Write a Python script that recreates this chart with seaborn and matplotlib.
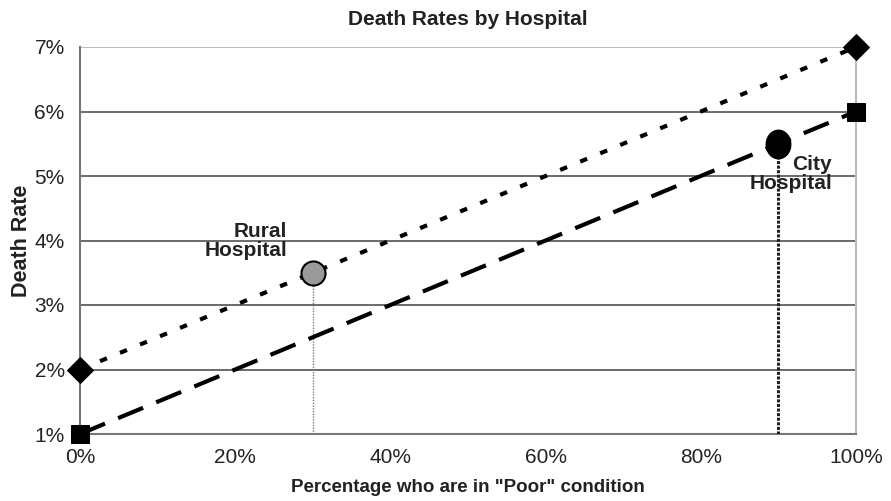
import matplotlib
matplotlib.use("Agg")
import matplotlib.pyplot as plt
from matplotlib.ticker import PercentFormatter
from matplotlib.path import Path
import numpy as np
import seaborn as sns
import pandas as pd

# Death rate by share of patients in "Poor" condition
poor_share = [0, 100]
rate_poor_cond = [2, 7]      # patients in poor condition
rate_good_cond = [1, 6]      # patients in good condition

hospitals = ["Rural\nHospital", "City\nHospital"]
hospital_poor_share = [30, 90]
hospital_rate = [3.5, 5.5]

sns.set_theme(style="white")
plt.rcParams["font.family"] = ["Liberation Sans", "DejaVu Sans"]

fig = plt.figure(figsize=(8.91, 5.01), dpi=100)
ax = fig.add_axes([80 / 891, 1 - 434 / 501, (856 - 80) / 891, (434 - 47) / 501])

df = pd.DataFrame({
    "x": poor_share * 2,
    "y": rate_poor_cond + rate_good_cond,
    "group": ["poor"] * 2 + ["good"] * 2,
})

sns.lineplot(data=df[df.group == "poor"], x="x", y="y", ax=ax, color="black",
             lw=3.0, linestyle=(0, (1.8, 3.4)), marker="D", markersize=13,
             markeredgecolor="black", clip_on=False, zorder=4)
sns.lineplot(data=df[df.group == "good"], x="x", y="y", ax=ax, color="black",
             lw=3.0, linestyle=(0, (6.5, 3.4)), marker="s", markersize=12.5,
             markeredgecolor="black", clip_on=False, zorder=4)

# slightly tall oval marker for the city point
t = np.linspace(0, 2 * np.pi, 60)
oval = Path(np.column_stack([0.86 * np.cos(t), np.sin(t)]))

ax.plot([hospital_poor_share[0]] * 2, [1, hospital_rate[0]], color="#777777",
        lw=1.0, linestyle=(0, (1, 1)), zorder=3)
ax.plot([hospital_poor_share[1]] * 2, [1, hospital_rate[1]], color="#222222",
        lw=2.2, linestyle=(0, (1, 0.5)), zorder=3)
ax.scatter([hospital_poor_share[0]], [hospital_rate[0]], s=300, c="#9a9a9a",
           edgecolors="black", linewidths=1.5, zorder=5)
ax.scatter([hospital_poor_share[1]], [hospital_rate[1]], s=420, c="black",
           marker=oval, edgecolors="black", linewidths=1.0, zorder=5)

ax.text(26.7, 4.29, hospitals[0], ha="right", va="top", fontsize=15,
        fontweight="bold", color="#222222", linespacing=1.0)
ax.text(96.9, 5.33, hospitals[1], ha="right", va="top", fontsize=15,
        fontweight="bold", color="#222222", linespacing=1.0)

ax.set_xlim(0, 100)
ax.set_ylim(1, 7)
ax.set_xticks(range(0, 101, 20))
ax.set_yticks(range(1, 8))
ax.xaxis.set_major_formatter(PercentFormatter(decimals=0))
ax.yaxis.set_major_formatter(PercentFormatter(decimals=0))
ax.tick_params(axis="both", labelsize=15, labelcolor="#222222", length=4,
               width=1.2, direction="out", color="#777777")
ax.tick_params(axis="x", pad=5, length=5)
ax.tick_params(axis="y", pad=7)

for yv in range(2, 7):
    ax.axhline(yv, color="#6a6a6a", lw=1.4, zorder=1)
ax.axhline(7, color="#bbbbbb", lw=1.4, zorder=1)

ax.spines["top"].set_visible(False)
ax.spines["left"].set_color("#777777")
ax.spines["left"].set_linewidth(1.5)
ax.spines["bottom"].set_color("#777777")
ax.spines["bottom"].set_linewidth(1.5)
ax.spines["right"].set_color("#bbbbbb")
ax.spines["right"].set_linewidth(1.5)

ax.set_title("Death Rates by Hospital", fontsize=15, fontweight="bold",
             color="#222222", pad=16)
ax.set_xlabel('Percentage who are in "Poor" condition', fontsize=13.5,
              fontweight="bold", color="#222222", labelpad=9)
ax.set_ylabel("Death Rate", fontsize=15.5, fontweight="bold", color="#222222",
              labelpad=2)

fig.savefig("out.png", dpi=100, facecolor="white")
